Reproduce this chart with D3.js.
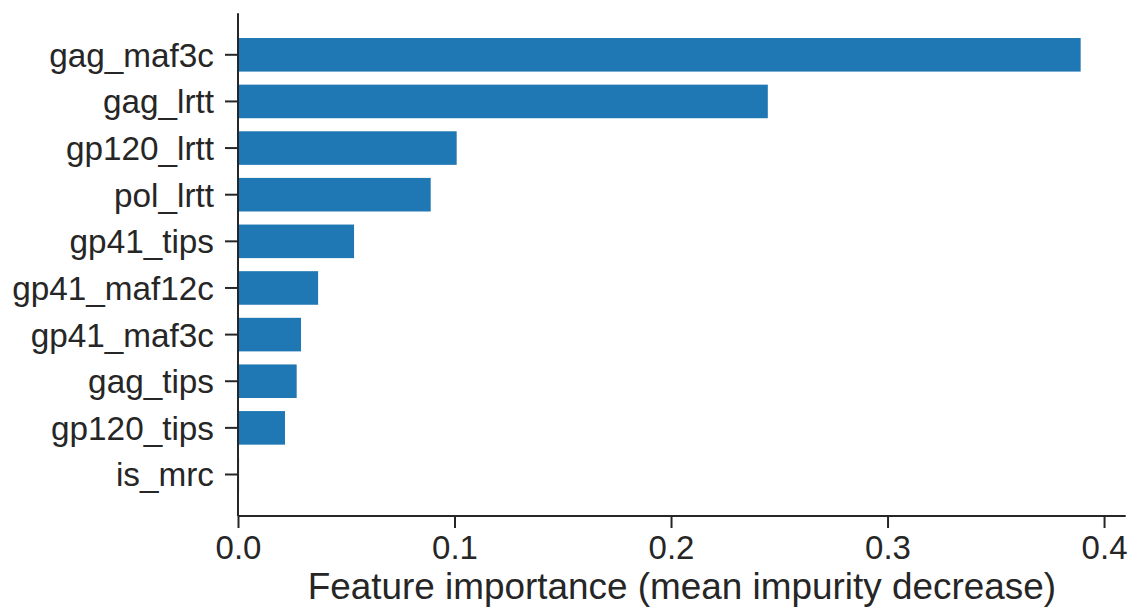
<!DOCTYPE html>
<html>
<head>
<meta charset="utf-8">
<script src="https://cdn.jsdelivr.net/npm/d3@7"></script>
<style>
  html, body { margin: 0; padding: 0; background: #fff; }
  svg { display: block; }
  text { font-family: "Liberation Sans", Arial, sans-serif; fill: #262626; }
</style>
</head>
<body>
<svg id="chart" width="1132" height="610"></svg>
<script>
const categories = ["gag_maf3c", "gag_lrtt", "gp120_lrtt", "pol_lrtt", "gp41_tips",
                    "gp41_maf12c", "gp41_maf3c", "gag_tips", "gp120_tips", "is_mrc"];
const importance = [0.3892, 0.2447, 0.1010, 0.0890, 0.0536,
                    0.0370, 0.0291, 0.0271, 0.0217, 0.0005];
const xTicks = [0.0, 0.1, 0.2, 0.3, 0.4];
const xLabel = "Feature importance (mean impurity decrease)";

(function () {
const svg = d3.select("#chart");
const mLeft = 238, mRight = 1125.7, mTop = 13.3, mBottom = 516;
const ink = "#262626";

const x = d3.scaleLinear().domain([0, 0.41]).range([mLeft, mRight]);
const y = d3.scaleBand().domain(categories).range([mTop, mBottom])
  .paddingInner(0.28).paddingOuter(0.53);

// bars
svg.append("g").selectAll("rect").data(categories).join("rect")
  .attr("x", x(0))
  .attr("y", d => y(d))
  .attr("width", (d, i) => x(importance[i]) - x(0))
  .attr("height", y.bandwidth())
  .attr("fill", "#1f77b4");

// x axis
const xAxis = d3.axisBottom(x).tickValues(xTicks).tickFormat(d3.format(".1f"))
  .tickSizeOuter(0).tickSizeInner(12).tickPadding(8);
const gx = svg.append("g").attr("transform", `translate(0,${mBottom})`).call(xAxis);
gx.select(".domain").attr("stroke", ink).attr("stroke-width", 2).attr("d", `M${mLeft},0H${mRight}`);
gx.selectAll(".tick line").attr("stroke", ink).attr("stroke-width", 2);
gx.selectAll(".tick text").attr("font-size", 33).attr("fill", ink)
  .attr("font-family", '"Liberation Sans", Arial, sans-serif');

// y axis
const yAxis = d3.axisLeft(y).tickSizeOuter(0).tickSizeInner(13).tickPadding(11);
const gy = svg.append("g").attr("transform", `translate(${mLeft},0)`).call(yAxis);
gy.select(".domain").attr("stroke", ink).attr("stroke-width", 2).attr("d", `M0,${mTop}V${mBottom}`);
gy.selectAll(".tick line").attr("stroke", ink).attr("stroke-width", 2);
gy.selectAll(".tick text").attr("font-size", 33.3).attr("fill", ink)
  .attr("font-family", '"Liberation Sans", Arial, sans-serif')
  .attr("dy", "0.36em");

// x label
svg.append("text")
  .attr("x", (mLeft + mRight) / 2)
  .attr("y", 599)
  .attr("text-anchor", "middle")
  .attr("font-size", 36.9)
  .text(xLabel);
})();
</script>
</body>
</html>
